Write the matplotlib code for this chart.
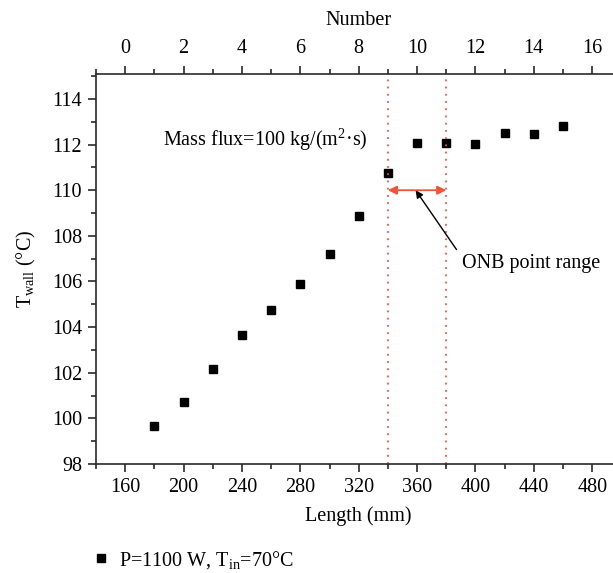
import matplotlib
matplotlib.use("Agg")
import matplotlib.pyplot as plt
from matplotlib.ticker import MultipleLocator, FixedLocator

plt.rcParams['font.family'] = ['Liberation Serif', 'DejaVu Serif']
plt.rcParams['mathtext.fontset'] = 'custom'
plt.rcParams['mathtext.rm'] = 'Liberation Serif'
plt.rcParams['mathtext.it'] = 'Liberation Serif:italic'
plt.rcParams['font.size'] = 14.5

length_mm = [180, 200, 220, 240, 260, 280, 300, 320, 340, 360, 380, 400, 420, 440, 460]
t_wall = [99.67, 100.72, 102.16, 103.66, 104.75, 105.89, 107.21, 108.87, 110.76,
          112.09, 112.09, 112.04, 112.51, 112.48, 112.83]
onb_range = [340, 380]
arrow_y = 110.0
number_ticks = [0, 2, 4, 6, 8, 10, 12, 14, 16]

fig = plt.figure(figsize=(6.13, 5.73), dpi=100)
ax = fig.add_axes([96/613, 1-464/573, (621.4-96)/613, (464-74.3)/573])

spine_c = '#2a2a2a'
red = '#f0553a'
fs = 14.5

ax.plot(length_mm, t_wall, linestyle='none', marker='s', markersize=5.8,
        color='black', label='P=1100 W, T$_{\\mathrm{in}}$=70°C')

for xv in onb_range:
    ax.axvline(xv, color=red, linestyle=(0, (1, 3)), linewidth=1.3)

ax.annotate('', xy=(onb_range[0], arrow_y), xytext=(onb_range[1], arrow_y),
            arrowprops=dict(arrowstyle='<|-|>', color=red, lw=1.3,
                            shrinkA=0, shrinkB=0, mutation_scale=13))
ax.annotate('', xy=(359, 110.0), xytext=(387, 107.4),
            arrowprops=dict(arrowstyle='-|>', color='black', lw=1.0,
                            shrinkA=0, shrinkB=0, mutation_scale=11))
ax.text(438, 106.8, 'ONB point range', ha='center', va='center', fontsize=fs)
ax.text(186, 112.2, 'Mass flux=100 kg/(m$^{2}$·s)', ha='left', va='center', fontsize=fs)

ax.set_xlim(140, 500)
ax.set_ylim(98, 115.08)
ax.xaxis.set_major_locator(MultipleLocator(40))
ax.xaxis.set_minor_locator(MultipleLocator(20))
ax.yaxis.set_major_locator(MultipleLocator(2))
ax.yaxis.set_minor_locator(MultipleLocator(1))
ax.tick_params(which='major', direction='out', length=6, width=1.2, color=spine_c, pad=4)
ax.tick_params(which='minor', direction='out', length=3.5, width=1.2, color=spine_c)
ax.tick_params(axis='y', which='both', right=False)
for s in ax.spines.values():
    s.set_color(spine_c)
    s.set_linewidth(1.2)
ax.spines['top'].set_visible(False)

ax.set_xlabel('Length (mm)', fontsize=fs, labelpad=7)
ax.set_ylabel('T$_{\\mathrm{wall}}$ (°C)', fontsize=fs, labelpad=10)

sec = ax.secondary_xaxis('top', functions=(lambda L: (L - 160) / 20, lambda n: n * 20 + 160))
sec.xaxis.set_major_locator(FixedLocator(number_ticks))
sec.xaxis.set_minor_locator(MultipleLocator(1))
sec.tick_params(which='major', direction='out', length=6, width=1.2, color=spine_c, pad=6)
sec.tick_params(which='minor', direction='out', length=3.5, width=1.2, color=spine_c)
sec.spines['top'].set_color(spine_c)
sec.spines['top'].set_linewidth(1.2)
sec.set_xlabel('Number', fontsize=fs, labelpad=10)

fig.legend(loc='center left', bbox_to_anchor=(71/613, 1-560/573), frameon=False,
           fontsize=fs, handletextpad=0.3, handlelength=1.2)

fig.savefig('out.png', dpi=100)
